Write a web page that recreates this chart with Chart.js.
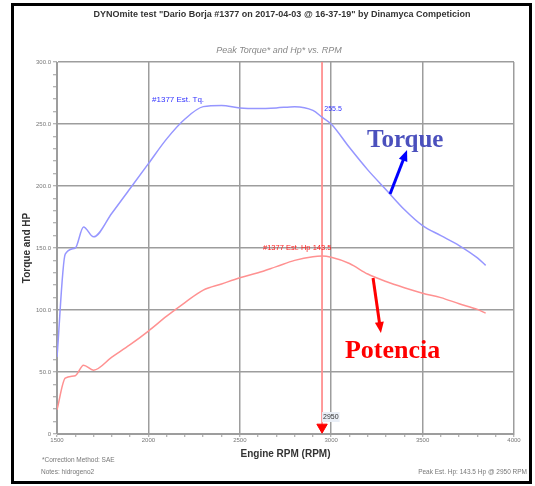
<!DOCTYPE html>
<html lang="en">
<head>
<meta charset="UTF-8">
<title>DYNOmite test</title>
<script src="https://cdn.jsdelivr.net/npm/chart.js"></script>
<style>
  html, body { margin: 0; padding: 0; background: #fff; }
  .dynoChartContainer { position: relative; width: 535px; height: 486px; }
</style>
</head>
<body>
<div class="dynoChartContainer"><canvas id="dynoChart"></canvas></div>
<script>
// values
var rpmPoints = [1500, 1545, 1600, 1645, 1700, 1800, 1900, 2000, 2100, 2200, 2300, 2400, 2500, 2600, 2700, 2800, 2900, 2950, 3000, 3100, 3200, 3300, 3400, 3500, 3600, 3700, 3800, 3845];
var torqueValues = [62, 145, 150, 167, 159, 178, 198, 218, 238, 254, 264, 265, 263, 262.5, 263, 264, 261, 255.5, 250, 231, 213, 197, 181, 168, 160, 152, 142, 136];
var hpValues = [19.5, 45, 47, 55.5, 51.5, 62, 72, 83, 95, 106, 116, 121, 126, 130, 135, 140, 143, 143.5, 142.5, 137.5, 129, 123, 118, 113.5, 110, 105, 100.5, 97.5];
var peakRpm = 2950;
var peakTorque = 255.5;
var peakHp = 143.5;
var runName = '#1377';
var xTickLabels = ['1500', '2000', '2500', '3000', '3500', '4000'];
var yTickLabels = ['0', '50.0', '100.0', '150.0', '200.0', '250.0', '300.0'];

function toPoints(xs, ys) {
    return xs.map(function (x, i) { return { x: x, y: ys[i] }; });
}

// notes drawn on top of the chart, placed in data units
var notes = [
    { text: runName + ' Est. Tq.', x: 2020, y: 269.5, font: '8px "Liberation Sans"', color: '#3333ff' },
    { text: String(peakTorque), x: 2962, y: 262, font: '7px "Liberation Sans"', color: '#3333ff' },
    { text: runName + ' Est. Hp ' + peakHp, x: 2627, y: 150, font: '7.5px "Liberation Sans"', color: '#ff2020' },
    { text: 'Torque', x: 3196, y: 231.5, font: 'bold 25px "Liberation Serif"', color: '#4b50bd', baseline: 'alphabetic' },
    { text: 'Potencia', x: 3075, y: 61.3, font: 'bold 26px "Liberation Serif"', color: '#ff0000', baseline: 'alphabetic' }
];
var arrows = [
    { from: [3322, 193.5], to: [3415, 229], color: '#0000ff' },
    { from: [3229, 125.8], to: [3272, 81.5], color: '#ff0000' }
];

var sheetPlugin = {
    id: 'sheet',
    afterDatasetsDraw: function (chart) {
        var ctx = chart.ctx;
        var xs = chart.scales.x, ys = chart.scales.y;
        ctx.save();

        notes.forEach(function (n) {
            ctx.font = n.font;
            ctx.fillStyle = n.color;
            ctx.textAlign = 'left';
            ctx.textBaseline = n.baseline || 'middle';
            ctx.fillText(n.text, xs.getPixelForValue(n.x), ys.getPixelForValue(n.y));
        });

        arrows.forEach(function (a) {
            var x1 = xs.getPixelForValue(a.from[0]), y1 = ys.getPixelForValue(a.from[1]);
            var x2 = xs.getPixelForValue(a.to[0]), y2 = ys.getPixelForValue(a.to[1]);
            var ang = Math.atan2(y2 - y1, x2 - x1);
            ctx.strokeStyle = a.color;
            ctx.fillStyle = a.color;
            ctx.lineWidth = 3;
            ctx.beginPath();
            ctx.moveTo(x1, y1);
            ctx.lineTo(x2 - 8 * Math.cos(ang), y2 - 8 * Math.sin(ang));
            ctx.stroke();
            ctx.beginPath();
            ctx.moveTo(x2, y2);
            ctx.lineTo(x2 - 11 * Math.cos(ang) + 4.5 * Math.sin(ang), y2 - 11 * Math.sin(ang) - 4.5 * Math.cos(ang));
            ctx.lineTo(x2 - 11 * Math.cos(ang) - 4.5 * Math.sin(ang), y2 - 11 * Math.sin(ang) + 4.5 * Math.cos(ang));
            ctx.closePath();
            ctx.fill();
        });

        // rpm tag next to the peak marker
        var px = xs.getPixelForValue(peakRpm) + 1, py = ys.getPixelForValue(13.7);
        ctx.font = '7px "Liberation Sans"';
        var w = ctx.measureText(String(peakRpm)).width;
        ctx.fillStyle = '#e9eef6';
        ctx.fillRect(px - 1, py - 5, w + 2, 10);
        ctx.fillStyle = '#333';
        ctx.textBaseline = 'middle';
        ctx.fillText(String(peakRpm), px, py);

        // header, footer and frame
        ctx.textAlign = 'center';
        ctx.fillStyle = '#333';
        ctx.font = 'bold 9px "Liberation Sans"';
        ctx.fillText('DYNOmite test "Dario Borja ' + runName + ' on 2017-04-03 @ 16-37-19" by Dinamyca Competicion', 282, 15);
        ctx.fillStyle = '#888';
        ctx.font = 'italic 9px "Liberation Sans"';
        ctx.fillText('Peak Torque* and Hp* vs. RPM', 279, 50);

        ctx.font = '6.5px "Liberation Sans"';
        ctx.fillStyle = '#777';
        ctx.textAlign = 'left';
        ctx.fillText('*Correction Method: SAE', 42, 460);
        ctx.fillText('Notes: hidrogeno2', 41, 472);
        ctx.textAlign = 'right';
        ctx.fillText('Peak Est. Hp: ' + peakHp + ' Hp @ ' + peakRpm + ' RPM', 527, 472);

        ctx.strokeStyle = '#000';
        ctx.lineWidth = 3;
        ctx.strokeRect(12.5, 4.5, 518, 478);
        ctx.restore();
    }
};

var ctx = document.getElementById('dynoChart').getContext('2d');
var dynoChart = new Chart(ctx, {
    type: 'line',
    data: {
        datasets: [{
            label: 'Est. Tq.',
            data: toPoints(rpmPoints, torqueValues),
            borderColor: 'rgb(150, 150, 255)',
            borderWidth: 1.5,
            pointRadius: 0,
            cubicInterpolationMode: 'monotone'
        }, {
            label: 'Est. Hp',
            data: toPoints(rpmPoints, hpValues),
            borderColor: 'rgb(255, 145, 145)',
            borderWidth: 1.5,
            pointRadius: 0,
            cubicInterpolationMode: 'monotone'
        }, {
            label: 'Peak',
            data: [{ x: peakRpm, y: 300 }, { x: peakRpm, y: 5.5 }],
            borderColor: 'rgb(255, 140, 140)',
            borderWidth: 1,
            pointRadius: [0, 6],
            pointStyle: 'triangle',
            rotation: 180,
            pointBackgroundColor: '#ff0000',
            pointBorderColor: '#ff0000'
        }]
    },
    options: {
        responsive: true,
        maintainAspectRatio: false,
        animation: false,
        layout: { padding: { left: 14, right: 21, top: 62, bottom: 0 } },
        plugins: { legend: { display: false }, tooltip: { enabled: false } },
        scales: {
            x: {
                type: 'linear',
                position: 'bottom',
                min: 1500,
                max: 4000,
                afterFit: function (scale) { scale.height = 52; },
                ticks: {
                    stepSize: 100,
                    autoSkip: false,
                    maxRotation: 0,
                    padding: 0,
                    color: '#777',
                    font: { family: 'Liberation Sans', size: 6 },
                    callback: function (value) {
                        return value % 500 === 0 ? xTickLabels[(value - 1500) / 500] : '';
                    }
                },
                grid: {
                    color: function (c) { return c.tick && c.tick.value % 500 === 0 ? '#9d9d9d' : 'rgba(0,0,0,0)'; },
                    lineWidth: 1.5,
                    tickColor: '#9d9d9d',
                    tickLength: 3,
                    tickWidth: 1
                },
                border: { color: '#9d9d9d', width: 1 },
                title: {
                    display: true,
                    text: 'Engine RPM (RPM)',
                    color: '#333',
                    font: { family: 'Liberation Sans', size: 10, weight: 'bold' },
                    padding: { top: 0, bottom: 26 }
                }
            },
            y: {
                min: 0,
                max: 300,
                afterFit: function (scale) { scale.width = 43; },
                ticks: {
                    stepSize: 10,
                    autoSkip: false,
                    padding: 2,
                    color: '#777',
                    font: { family: 'Liberation Sans', size: 6 },
                    callback: function (value) {
                        return value % 50 === 0 ? yTickLabels[value / 50] : '';
                    }
                },
                grid: {
                    color: function (c) { return c.tick && c.tick.value % 50 === 0 ? '#9d9d9d' : 'rgba(0,0,0,0)'; },
                    lineWidth: 1.5,
                    tickColor: '#9d9d9d',
                    tickLength: 4,
                    tickWidth: 1
                },
                border: { color: '#9d9d9d', width: 1 },
                title: {
                    display: true,
                    text: 'Torque and HP',
                    color: '#333',
                    font: { family: 'Liberation Sans', size: 10, weight: 'bold' },
                    padding: { top: 7, bottom: 0 }
                }
            }
        }
    },
    plugins: [sheetPlugin]
});
</script>
</body>
</html>
